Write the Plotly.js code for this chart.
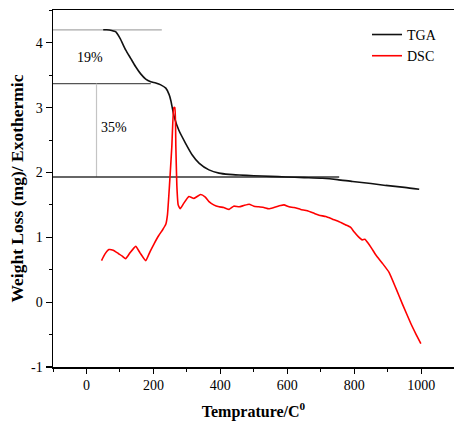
<!DOCTYPE html>
<html>
<head>
<meta charset="utf-8">
<script src="https://cdn.plot.ly/plotly-3.0.1.min.js"></script>
<style>html,body{margin:0;padding:0;background:#fff;}#chart{width:454px;height:425px;}</style>
</head>
<body>
<div id="chart"></div>
<script>
// TGA curve (temperature °C, weight mg)
const tgaT = [50, 60, 75, 87, 100, 117, 132, 147, 162, 177, 192, 207, 222, 237, 247, 252, 262, 276, 296, 316, 337, 366, 396, 426, 456, 500, 550, 595, 650, 705, 750, 795, 850, 894, 950, 994];
const tgaW = [4.20, 4.20, 4.19, 4.17, 4.07, 3.89, 3.76, 3.63, 3.52, 3.44, 3.40, 3.38, 3.35, 3.30, 3.20, 3.11, 2.86, 2.65, 2.45, 2.27, 2.14, 2.04, 1.99, 1.97, 1.96, 1.95, 1.94, 1.93, 1.92, 1.91, 1.89, 1.86, 1.83, 1.80, 1.77, 1.74];

// DSC curve (temperature °C, exothermic signal)
const dscT = [45, 55, 67, 80, 95, 107, 117, 130, 147, 160, 177, 190, 202, 215, 228, 237, 242, 248, 255, 261, 264, 267, 270, 274, 280, 290, 306, 321, 341, 355, 366, 380, 396, 410, 426, 440, 456, 470, 486, 500, 515, 530, 545, 560, 580, 590, 605, 620, 640, 660, 680, 695, 715, 735, 755, 775, 790, 800, 812, 824, 832, 840, 852, 864, 884, 904, 924, 944, 969, 985, 999];
const dscY = [0.64, 0.74, 0.81, 0.80, 0.75, 0.71, 0.67, 0.76, 0.86, 0.76, 0.64, 0.78, 0.90, 1.02, 1.12, 1.20, 1.35, 1.80, 2.40, 3.00, 3.00, 2.40, 1.80, 1.50, 1.44, 1.52, 1.63, 1.60, 1.66, 1.62, 1.55, 1.50, 1.47, 1.46, 1.43, 1.48, 1.47, 1.49, 1.51, 1.48, 1.47, 1.46, 1.44, 1.46, 1.49, 1.50, 1.47, 1.46, 1.43, 1.41, 1.37, 1.34, 1.32, 1.28, 1.24, 1.19, 1.15, 1.08, 1.01, 0.96, 0.97, 0.92, 0.83, 0.73, 0.60, 0.46, 0.22, -0.03, -0.33, -0.50, -0.64];

// Guide lines marking the weight-loss steps
const guide1T = [-100, 225], guide1W = [4.20, 4.20];
const guide2T = [-100, 192], guide2W = [3.37, 3.37];
const guide3T = [30, 30],    guide3W = [1.93, 3.37];
const guide4T = [-100, 755], guide4W = [1.93, 1.93];

// Step labels
const stepLabels = ['19%', '35%'];
const stepLabelT = [10, 81];
const stepLabelW = [3.78, 2.69];

const xTicks = [0, 200, 400, 600, 800, 1000];
const yTicks = [-1, 0, 1, 2, 3, 4];

const serif = 'Liberation Serif, Times New Roman, serif';

const guide = (t, w, color, width) => ({
  x: t, y: w, mode: 'lines', showlegend: false, hoverinfo: 'skip',
  line: {color: color, width: width}
});

const data = [
  guide(guide1T, guide1W, '#a8a8a8', 1.2),
  guide(guide2T, guide2W, '#555555', 1.4),
  guide(guide3T, guide3W, '#c4c4c4', 1.2),
  guide(guide4T, guide4W, '#333333', 1.4),
  {x: tgaT, y: tgaW, name: 'TGA', mode: 'lines', line: {color: '#111111', width: 1.6, shape: 'spline', smoothing: 0.6}},
  {x: dscT, y: dscY, name: 'DSC', mode: 'lines', line: {color: '#ff0000', width: 1.6, shape: 'spline', smoothing: 0.4}}
];

const layout = {
  width: 454, height: 425,
  margin: {l: 53, r: 0, t: 10, b: 58},
  paper_bgcolor: '#ffffff', plot_bgcolor: '#ffffff',
  font: {family: serif, color: '#000', size: 13},
  showlegend: true,
  legend: {
    x: 0.783, y: 0.975, xanchor: 'left', yanchor: 'top',
    bgcolor: 'rgba(0,0,0,0)', font: {family: serif, size: 14, color: '#000'},
    tracegroupgap: 0
  },
  xaxis: {
    range: [-100, 1098],
    tickvals: xTicks, ticktext: xTicks.map(String),
    ticks: 'outside', ticklen: 5, tickwidth: 1.2, tickcolor: '#000',
    minor: {ticks: 'outside', ticklen: 3, dtick: 100, tick0: 0, tickcolor: '#000', tickwidth: 1},
    showline: true, linecolor: '#000', linewidth: 1.5, mirror: true,
    showgrid: false, zeroline: false,
    tickfont: {family: serif, size: 14, color: '#000'},
    title: {text: '<b>Temprature/C<sup>0</sup></b>', font: {family: serif, size: 16, color: '#000'}, standoff: 13}
  },
  yaxis: {
    range: [-1, 4.505],
    tickvals: yTicks, ticktext: yTicks.map(String),
    ticks: 'outside', ticklen: 6, tickwidth: 1.2, tickcolor: '#000',
    minor: {ticks: 'outside', ticklen: 3, dtick: 0.5, tick0: 0, tickcolor: '#000', tickwidth: 1},
    showline: true, linecolor: '#000', linewidth: 1.5,
    showgrid: false, zeroline: false,
    tickfont: {family: serif, size: 14, color: '#000'},
    title: {text: '<b>Weight Loss (mg)/ Exothermic</b>', font: {family: serif, size: 17.5, color: '#000'}, standoff: 3}
  },
  annotations: stepLabels.map((s, i) => ({
    x: stepLabelT[i], y: stepLabelW[i], text: s, showarrow: false,
    font: {family: serif, size: 14, color: '#000'}
  }))
};

Plotly.newPlot('chart', data, layout, {displayModeBar: false, staticPlot: true});
</script>
</body>
</html>
